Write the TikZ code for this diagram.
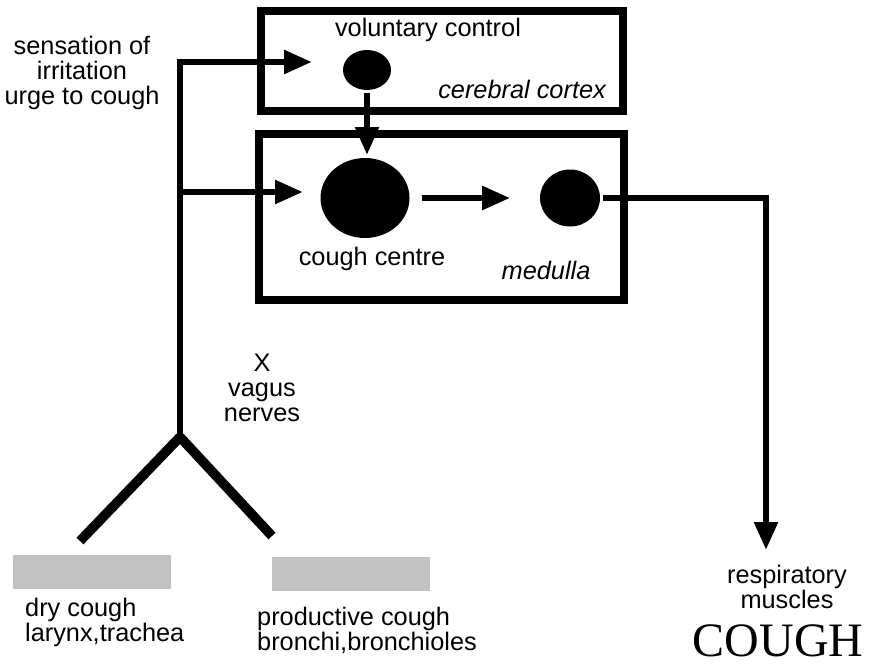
\documentclass[tikz,border=0pt]{standalone}
\usepackage{fontspec}
\setmainfont{Liberation Sans}
\newfontfamily\coughfont{Liberation Serif}
\usetikzlibrary{arrows.meta,shapes.geometric}

\tikzset{every picture/.style={line width=4.75pt}}
\tikzset{
  impulse/.style={line width=4.75pt,-{Triangle[length=21pt,width=17pt]}},
  branch/.style={line width=7.25pt},
  area/.style={line width=5.75pt},
  dot/.style={ellipse,fill=black,draw=none,inner sep=0pt},
  tissue/.style={rectangle,fill=black!24,draw=none,inner sep=0pt,minimum width=118.5pt,minimum height=25.5pt},
  label/.style={font=\fontsize{19}{18.75}\selectfont,inner sep=0pt,align=center}
}

\begin{document}
\begin{tikzpicture}[x=0.75pt,y=0.75pt,yscale=-1,xscale=1]
\useasboundingbox (0,0) rectangle (873,667);

%Rectangle cerebral cortex
\draw [area] (261,11) rectangle (623,111) ;
%Rectangle medulla
\draw [area] (259,134) rectangle (624,300) ;

%Ellipse voluntary
\draw (367,70) node (vol) [dot,minimum width=36pt,minimum height=30pt] {};
%Ellipse cough centre
\draw (365,198) node (centre) [dot,minimum width=66.75pt,minimum height=60pt] {};
%Ellipse medulla
\draw (570,198) node (med) [dot,minimum width=45pt,minimum height=42.75pt] {};

%Shape: Patches
\draw (92,572) node (dry) [tissue] {};
\draw (351,574) node (prod) [tissue] {};

\coordinate (fork) at (180,437);
\coordinate (volin) at (312,62);
\coordinate (ccin) at (303,192);
\coordinate (resp) at (766,550);

%Nerves
\draw [impulse] (fork) -- (180,62) -- (volin) ;
\draw [impulse] (fork |- ccin) -- (ccin) ;
\draw [branch] (fork) -- (80,541) ;
\draw [branch] (fork) -- (272,536) ;
\draw [impulse] (vol.south) -- (vol.south |- 0,155) ;
\draw [impulse,shorten <=6.75pt,shorten >=20pt] (centre.east) -- (med.west) ;
\draw [impulse] (med.east) -| (resp) ;

% Text Node
\draw (428,30) node (volt) [label] {voluntary control};
% Text Node
\draw (609,89) node (cortex) [label,anchor=east] {\itshape cerebral cortex};
% Text Node
\draw (372,259) node (cct) [label] {cough centre};
% Text Node
\draw (546,270) node (medt) [label] {\itshape medulla};
% Text Node
\draw (82,73) node (urge) [label] {sensation of\\irritation\\urge to cough};
% Text Node
\draw (262,388) node (vagus) [label] {X\\vagus\\nerves};
% Text Node
\draw (22,622) node (dryt) [label,anchor=west,align=left] {dry cough\\larynx,trachea};
% Text Node
\draw (254,630) node (prodt) [label,anchor=west,align=left] {productive cough\\bronchi,bronchioles};
% Text Node
\draw (787,587) node (muscles) [label] {respiratory\\muscles};
% Text Node
\draw (778,641) node (cough) [inner sep=0pt,font=\coughfont\fontsize{36}{40}\selectfont] {COUGH};

\end{tikzpicture}
\end{document}
